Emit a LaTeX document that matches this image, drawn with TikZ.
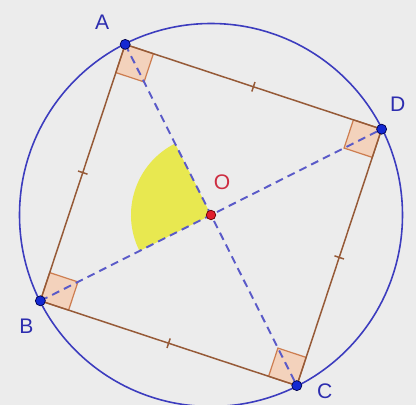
\documentclass[tikz,border=0pt]{standalone}
\usepackage{fontspec}
\setmainfont{Liberation Sans}
\usetikzlibrary{positioning,calc}
\definecolor{bggray}{RGB}{236,236,236}
\definecolor{circblue}{RGB}{60,60,190}
\definecolor{sidebrown}{RGB}{150,90,55}
\definecolor{markfill}{RGB}{243,210,188}
\definecolor{markedge}{RGB}{205,125,80}
\definecolor{diagblue}{RGB}{90,90,200}
\definecolor{sectyellow}{RGB}{232,232,80}
\definecolor{ptblue}{RGB}{20,40,210}
\definecolor{ptred}{RGB}{225,30,45}
\definecolor{lblblue}{RGB}{45,45,175}
\definecolor{lblred}{RGB}{205,45,65}

\begin{document}
\begin{tikzpicture}[x=0.02cm,y=0.02cm,
  side/.style={sidebrown,line width=0.85pt},
  diag/.style={diagblue,line width=1.1pt,dash pattern=on 4.5pt off 3pt},
  anglemark/.style={fill=markfill,draw=markedge,line width=0.7pt},
  bluept/.style={circle,fill=ptblue,draw=black!70!blue,line width=0.4pt,inner sep=0pt,minimum size=0.2cm},
  redpt/.style={circle,fill=ptred,draw=black!60!red,line width=0.4pt,inner sep=0pt,minimum size=0.19cm},
  ptlabel/.style={text=lblblue,font=\fontsize{12}{14}\selectfont}]
\fill[bggray] (-211,-190) rectangle (205,215);
\useasboundingbox (-211,-190) rectangle (205,215);
\coordinate (O) at (0,0);
\coordinate (A) at (116.7:191);
\coordinate (D) at (26.7:191);
\coordinate (C) at (-63.3:191);
\coordinate (B) at (206.7:191);
% secteur AOB
\fill[sectyellow] (O) -- (116.7:80) arc[start angle=116.7,end angle=206.7,radius=80] -- cycle;
% angles droits
\foreach \p/\q/\r/\s in {A/D/C/B, D/C/B/A, C/B/A/D, B/A/D/C}
  {\filldraw[anglemark] (\p) -- ($(\p)!0.11!(\q)$) -- ($(\p)!0.11!(\r)$) -- ($(\p)!0.11!(\s)$) -- cycle;}
\draw[circblue,line width=0.9pt] (O) circle (191.5);
\draw[side] (A) -- (D) -- (C) -- (B) -- cycle;
% codage des cotes
\foreach \p/\q in {A/D, D/C, C/B, B/A}
  {\coordinate (m\p\q) at ($(\p)!0.5!(\q)$);
   \draw[side] ($(m\p\q)!0.1cm!90:(\q)$) -- ($(m\p\q)!0.1cm!-90:(\q)$);}
\draw[diag] (A) -- (C);
\draw[diag] (B) -- (D);
\foreach \p in {A,B,C,D} {\node[bluept] (d\p) at (\p) {};}
\node[redpt] (dO) at (O) {};
\node[ptlabel] (lA) at ($(A)+(-23,22)$) {A};
\node[ptlabel] (lD) at ($(D)+(16,25)$) {D};
\node[ptlabel] (lB) at ($(B)+(-14,-25)$) {B};
\node[ptlabel] (lC) at ($(C)+(28,-6)$) {C};
\node[ptlabel,text=lblred] (lO) at (11,33) {O};
\end{tikzpicture}
\end{document}
